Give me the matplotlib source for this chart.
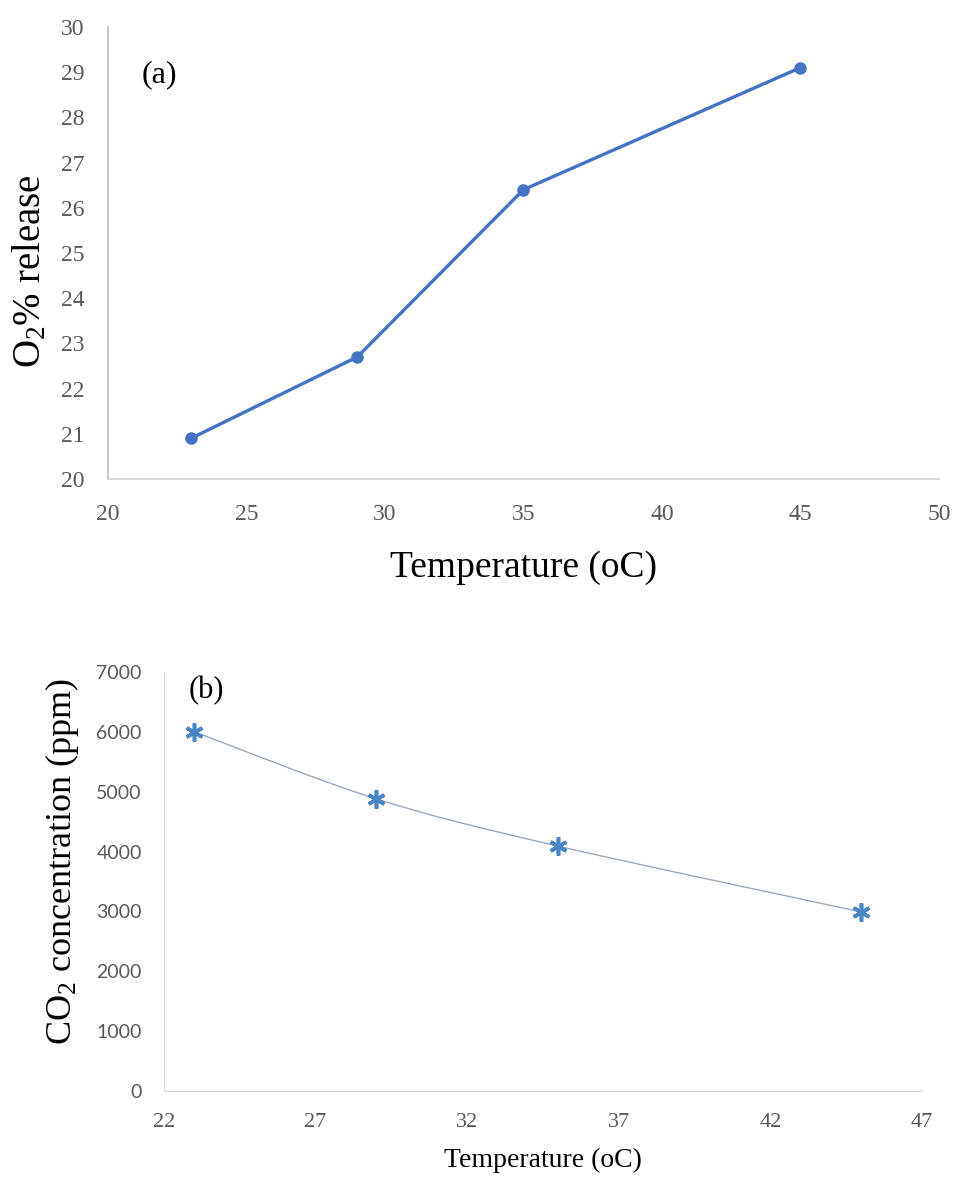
import numpy as np
import matplotlib
matplotlib.use('Agg')
import matplotlib.pyplot as plt
from matplotlib.path import Path
from matplotlib.patches import PathPatch

# ── Data ──────────────────────────────────────────────────────────────────────
temp_a = [23, 29, 35, 45]
o2_release = [20.9, 22.7, 26.4, 29.1]

temp_b = [23, 29, 35, 45]
co2_ppm = [6000, 4880, 4090, 2990]

xticks_a = [20, 25, 30, 35, 40, 45, 50]
yticks_a = list(range(20, 31))
xticks_b = [22, 27, 32, 37, 42, 47]
yticks_b = list(range(0, 7001, 1000))

SERIF = ['Liberation Serif', 'DejaVu Serif']
SANS = ['Lato', 'DejaVu Sans']
TICK_GREY = '#595959'

plt.rcParams['mathtext.fontset'] = 'custom'
plt.rcParams['mathtext.rm'] = 'Liberation Serif'
plt.rcParams['mathtext.it'] = 'Liberation Serif:italic'


def smooth_path(xs, ys):
    # Excel-style smoothed line: Catmull-Rom segments as cubic Beziers
    pts = np.column_stack([xs, ys]).astype(float)
    n = len(pts)
    verts = [pts[0]]
    codes = [Path.MOVETO]
    for i in range(n - 1):
        p0 = pts[max(i - 1, 0)]
        p1 = pts[i]
        p2 = pts[i + 1]
        p3 = pts[min(i + 2, n - 1)]
        c1 = p1 + (p2 - p0) / 6.0
        c2 = p2 - (p3 - p1) / 6.0
        verts += [c1, c2, p2]
        codes += [Path.CURVE4] * 3
    return Path(verts, codes)


fig = plt.figure(figsize=(9.55, 11.78), dpi=100)

# ── Panel (a) ─────────────────────────────────────────────────────────────────
ax1 = fig.add_axes([0.1131, 0.5934, 0.870, 0.3837])
ax1.plot(temp_a, o2_release, color='#4472C4', linewidth=2.4,
         marker='o', markersize=8, zorder=3)
ax1.set_xlim(20, 50)
ax1.set_ylim(20, 30)
ax1.set_xticks(xticks_a)
ax1.set_yticks(yticks_a)
ax1.tick_params(length=0, colors=TICK_GREY, labelsize=17)
ax1.tick_params(axis='x', pad=18)
ax1.tick_params(axis='y', pad=17)
for lab in ax1.get_xticklabels() + ax1.get_yticklabels():
    lab.set_family(SERIF)
ax1.spines['top'].set_visible(False)
ax1.spines['right'].set_visible(False)
ax1.spines['left'].set_color('#bfbfbf')
ax1.spines['bottom'].set_color('#d0d0d0')
ax1.spines['left'].set_linewidth(1.2)
ax1.spines['bottom'].set_linewidth(1.2)
ax1.set_xlabel('Temperature (oC)', family=SERIF, fontsize=27, labelpad=18)
ax1.set_ylabel(r'O$_\mathregular{2}$% release', family=SERIF, fontsize=28)
ax1.yaxis.set_label_coords(-0.071, 0.46)
ax1.text(0.04, 0.894, '(a)', transform=ax1.transAxes, family=SERIF,
         fontsize=23, va='center', ha='left')

# ── Panel (b) ─────────────────────────────────────────────────────────────────
ax2 = fig.add_axes([0.1717, 0.0739, 0.7937, 0.3557])
ax2.add_patch(PathPatch(smooth_path(temp_b, co2_ppm), facecolor='none',
                        edgecolor='#9aa9bd', linewidth=1.0, zorder=2))
ax2.plot(temp_b, co2_ppm, linestyle='none', marker=(6, 2, 0), markersize=13,
         markeredgewidth=2.6, color='#4a86c5', zorder=3)
ax2.set_xlim(22, 47)
ax2.set_ylim(0, 7000)
ax2.set_xticks(xticks_b)
ax2.set_yticks(yticks_b)
ax2.tick_params(length=0, colors=TICK_GREY)
ax2.tick_params(axis='x', labelsize=16, pad=16)
ax2.tick_params(axis='y', labelsize=14, pad=16)
for lab in ax2.get_xticklabels():
    lab.set_family(SERIF)
for lab in ax2.get_yticklabels():
    lab.set_family(SANS)
ax2.spines['top'].set_visible(False)
ax2.spines['right'].set_visible(False)
ax2.spines['left'].set_color('#d9d9d9')
ax2.spines['bottom'].set_color('#d9d9d9')
ax2.set_xlabel('Temperature (oC)', family=SERIF, fontsize=20, labelpad=11)
ax2.set_ylabel(r'CO$_\mathregular{2}$ concentration (ppm)', family=SERIF, fontsize=26)
ax2.yaxis.set_label_coords(-0.110, 0.547)
ax2.text(0.033, 0.955, '(b)', transform=ax2.transAxes, family=SERIF,
         fontsize=22, va='center', ha='left')

fig.savefig('out.png', dpi=100)
